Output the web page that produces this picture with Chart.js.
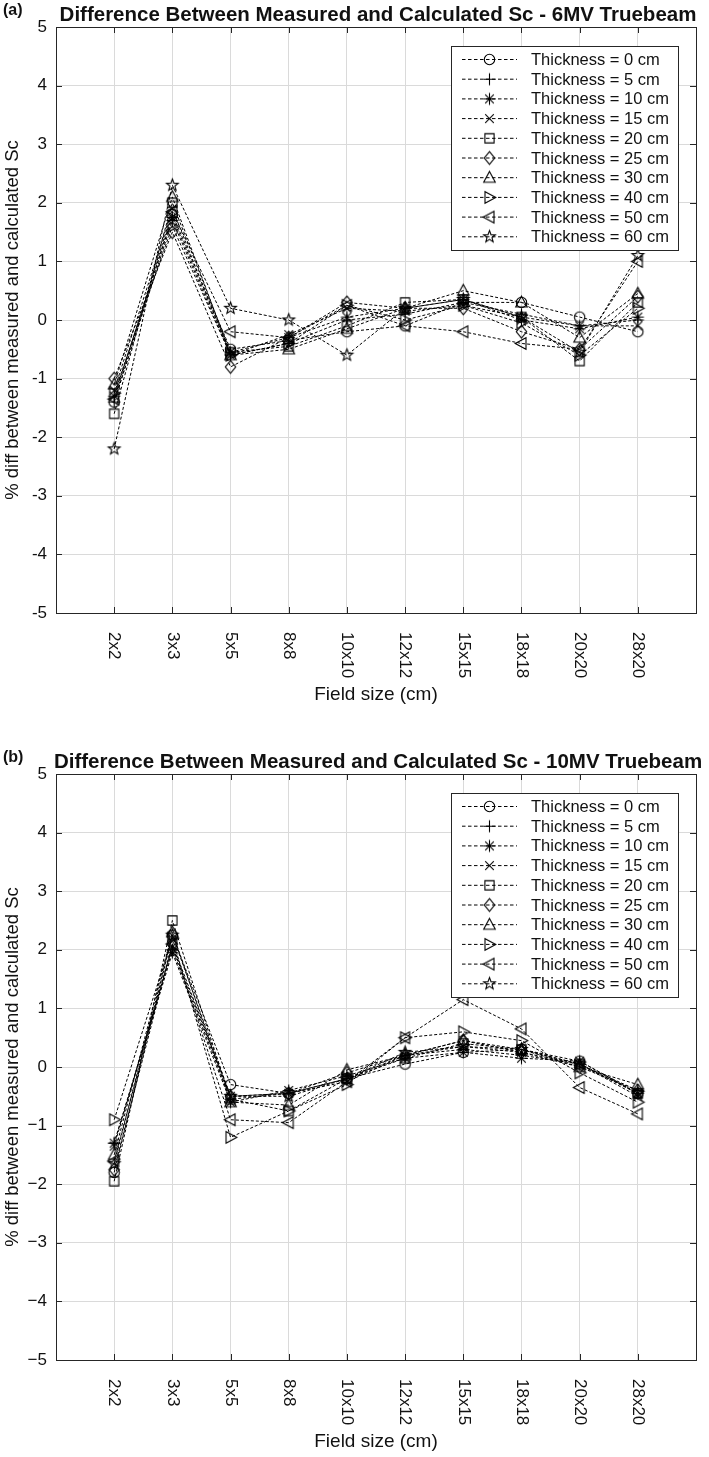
<!DOCTYPE html>
<html>
<head>
<meta charset="utf-8">
<script src="https://cdn.jsdelivr.net/npm/chart.js@4.4.0/dist/chart.umd.min.js"></script>
<style>
  body { margin: 0; background: #fff; }
  canvas { display: block; }
</style>
</head>
<body>
<canvas id="chart-a" width="709" height="747"></canvas>
<canvas id="chart-b" width="709" height="710"></canvas>
<script>
var fieldSizes = ["2x2", "3x3", "5x5", "8x8", "10x10", "12x12", "15x15", "18x18", "20x20", "28x20"];
var thicknesses = [0, 5, 10, 15, 20, 25, 30, 40, 50, 60];
var markerKinds = ["circle", "plus", "asterisk", "cross", "square", "diamond", "triUp", "triRight", "triLeft", "pentagram"];

// (a) 6MV Truebeam, % diff per field size
var sc6_t0  = [-1.4, 1.8, -0.5, -0.35, -0.2, -0.1, 0.3, 0.3, 0.05, -0.2];
var sc6_t5  = [-1.4, 1.7, -0.6, -0.4, 0.0, 0.1, 0.3, 0.1, -0.1, 0.0];
var sc6_t10 = [-1.3, 1.75, -0.55, -0.3, 0.05, 0.2, 0.35, 0.0, -0.15, 0.05];
var sc6_t15 = [-1.2, 1.9, -0.6, -0.25, 0.2, 0.15, 0.25, 0.05, -0.1, -0.1];
var sc6_t20 = [-1.6, 2.0, -0.55, -0.45, -0.1, 0.3, 0.35, 0.05, -0.7, 0.3];
var sc6_t25 = [-1.0, 1.5, -0.8, -0.3, 0.3, 0.2, 0.2, -0.2, -0.5, 0.4];
var sc6_t30 = [-1.1, 2.1, -0.6, -0.5, -0.15, 0.2, 0.5, 0.3, -0.3, 0.45];
var sc6_t40 = [-1.25, 1.6, -0.6, -0.4, 0.25, 0.0, 0.25, -0.05, -0.6, 0.2];
var sc6_t50 = [-1.35, 1.85, -0.2, -0.3, 0.25, -0.1, -0.2, -0.4, -0.5, 1.0];
var sc6_t60 = [-2.2, 2.3, 0.2, 0.0, -0.6, 0.2, 0.35, 0.05, -0.55, 1.1];

// (b) 10MV Truebeam
var sc10_t0  = [-1.8, 2.25, -0.3, -0.45, -0.2, 0.05, 0.25, 0.3, 0.1, -0.45];
var sc10_t5  = [-1.3, 2.0, -0.55, -0.45, -0.2, 0.2, 0.3, 0.2, 0.05, -0.4];
var sc10_t10 = [-1.3, 1.95, -0.6, -0.4, -0.15, 0.15, 0.25, 0.15, 0.1, -0.45];
var sc10_t15 = [-1.35, 2.05, -0.5, -0.45, -0.25, 0.2, 0.35, 0.25, 0.05, -0.5];
var sc10_t20 = [-1.95, 2.5, -0.55, -0.75, -0.2, 0.15, 0.4, 0.3, 0.05, -0.45];
var sc10_t25 = [-1.75, 2.1, -0.5, -0.45, -0.1, 0.2, 0.45, 0.25, 0.0, -0.4];
var sc10_t30 = [-1.5, 2.3, -0.6, -0.65, -0.05, 0.2, 0.45, 0.3, 0.0, -0.3];
var sc10_t40 = [-0.9, 2.2, -1.2, -0.75, -0.3, 0.5, 0.6, 0.45, -0.1, -0.6];
var sc10_t50 = [-1.6, 2.1, -0.9, -0.95, -0.25, 0.5, 1.15, 0.65, -0.35, -0.8];
var sc10_t60 = [-1.65, 2.25, -0.5, -0.5, -0.2, 0.25, 0.35, 0.3, 0.05, -0.45];

var INK = "#111";
var FONT = "'Liberation Sans', Arial, Helvetica, sans-serif";

// hollow marker glyphs, matlab style
function makeMarker(kind) {
  var c = document.createElement("canvas");
  c.width = 17; c.height = 17;
  var g = c.getContext("2d");
  g.translate(8.5, 8.5);
  g.strokeStyle = "#000";
  g.lineWidth = 1.1;
  g.beginPath();
  if (kind == "circle") {
    g.arc(0, 0, 5.2, 0, Math.PI * 2);
  } else if (kind == "plus") {
    g.moveTo(-6, 0); g.lineTo(6, 0); g.moveTo(0, -6); g.lineTo(0, 6);
  } else if (kind == "asterisk") {
    g.moveTo(-6, 0); g.lineTo(6, 0); g.moveTo(0, -6); g.lineTo(0, 6);
    g.moveTo(-4.3, -4.3); g.lineTo(4.3, 4.3); g.moveTo(-4.3, 4.3); g.lineTo(4.3, -4.3);
  } else if (kind == "cross") {
    g.moveTo(-4.3, -4.3); g.lineTo(4.3, 4.3); g.moveTo(-4.3, 4.3); g.lineTo(4.3, -4.3);
  } else if (kind == "square") {
    g.rect(-4.6, -4.6, 9.2, 9.2);
  } else if (kind == "diamond") {
    g.moveTo(0, -6.3); g.lineTo(5.2, 0); g.lineTo(0, 6.3); g.lineTo(-5.2, 0); g.closePath();
  } else if (kind == "triUp") {
    g.moveTo(0, -6.3); g.lineTo(5.8, 4.5); g.lineTo(-5.8, 4.5); g.closePath();
  } else if (kind == "triRight") {
    g.moveTo(6.3, 0); g.lineTo(-4.5, -5.8); g.lineTo(-4.5, 5.8); g.closePath();
  } else if (kind == "triLeft") {
    g.moveTo(-6.3, 0); g.lineTo(4.5, -5.8); g.lineTo(4.5, 5.8); g.closePath();
  } else if (kind == "pentagram") {
    for (var k = 0; k < 10; k++) {
      var r = k % 2 == 0 ? 6.2 : 2.6;
      var a = -Math.PI / 2 + k * Math.PI / 5;
      if (k == 0) g.moveTo(r * Math.cos(a), r * Math.sin(a));
      else g.lineTo(r * Math.cos(a), r * Math.sin(a));
    }
    g.closePath();
  }
  g.stroke();
  return c;
}
var markers = markerKinds.map(makeMarker);

var framePlugin = {
  id: "frame",
  afterDraw: function (chart) {
    var ctx = chart.ctx;
    var ca = chart.chartArea;
    var xs = chart.scales.x, ys = chart.scales.y;
    var o = chart.options.plugins.frame;
    ctx.save();

    // box + inward ticks
    ctx.strokeStyle = "#262626";
    ctx.lineWidth = 1;
    ctx.strokeRect(Math.round(ca.left) + 0.5, Math.round(ca.top) + 0.5,
      Math.round(ca.right - ca.left), Math.round(ca.bottom - ca.top));
    ctx.beginPath();
    for (var i = 1; i <= fieldSizes.length; i++) {
      var px = Math.round(xs.getPixelForValue(i)) + 0.5;
      ctx.moveTo(px, ca.top); ctx.lineTo(px, ca.top + 6);
      ctx.moveTo(px, ca.bottom); ctx.lineTo(px, ca.bottom - 6);
    }
    for (var v = -4; v <= 4; v++) {
      var py = Math.round(ys.getPixelForValue(v)) + 0.5;
      ctx.moveTo(ca.left, py); ctx.lineTo(ca.left + 6, py);
      ctx.moveTo(ca.right, py); ctx.lineTo(ca.right - 6, py);
    }
    ctx.stroke();

    // x tick labels, rotated clockwise
    ctx.fillStyle = INK;
    ctx.font = "17px " + FONT;
    ctx.textAlign = "left";
    ctx.textBaseline = "middle";
    fieldSizes.forEach(function (lab, i) {
      ctx.save();
      ctx.translate(xs.getPixelForValue(i + 1), ca.bottom + 19);
      ctx.rotate(Math.PI / 2);
      ctx.fillText(lab, 0, 0);
      ctx.restore();
    });

    // axis titles
    ctx.textAlign = "center";
    ctx.textBaseline = "alphabetic";
    ctx.font = "19px " + FONT;
    ctx.fillText("Field size (cm)", (ca.left + ca.right) / 2, ca.bottom + 87);
    ctx.save();
    ctx.translate(18, (ca.top + ca.bottom) / 2);
    ctx.rotate(-Math.PI / 2);
    ctx.font = "18.5px " + FONT;
    ctx.fillText("% diff between measured and calculated Sc", 0, 0);
    ctx.restore();

    // panel title
    ctx.font = "bold 20.5px " + FONT;
    ctx.fillText(o.title, (ca.left + ca.right) / 2 + 2, 20.5);
    ctx.textAlign = "left";
    ctx.font = "bold 16px " + FONT;
    ctx.fillText(o.panel, 3, 15);

    // legend
    var lx = 451, ly = 46, lw = 227, lh = 204;
    ctx.fillStyle = "#fff";
    ctx.fillRect(lx, ly, lw, lh);
    ctx.strokeStyle = "#262626";
    ctx.strokeRect(lx + 0.5, ly + 0.5, lw, lh);
    ctx.font = "16.5px " + FONT;
    ctx.textBaseline = "middle";
    chart.data.datasets.forEach(function (ds, i) {
      var ry = ly + 13.5 + i * 19.7;
      ctx.strokeStyle = "#000";
      ctx.lineWidth = 1;
      ctx.setLineDash([3.5, 2.5]);
      ctx.beginPath();
      ctx.moveTo(lx + 11, ry); ctx.lineTo(lx + 66, ry);
      ctx.stroke();
      ctx.setLineDash([]);
      ctx.drawImage(ds.pointStyle, lx + 38.5 - 8.5, ry - 8.5);
      ctx.fillStyle = INK;
      ctx.fillText(ds.label, lx + 80, ry + 1);
    });
    ctx.restore();
  }
};

function makeChart(id, series, title, panel, bottomSpace, minusSign) {
  var datasets = series.map(function (vals, i) {
    return {
      label: "Thickness = " + thicknesses[i] + " cm",
      data: vals.map(function (v, j) { return { x: j + 1, y: v }; }),
      borderColor: "#000",
      borderWidth: 1,
      borderDash: [3, 2],
      pointStyle: markers[i],
      pointRadius: 6,
      tension: 0
    };
  });
  return new Chart(document.getElementById(id), {
    type: "line",
    data: { datasets: datasets },
    plugins: [framePlugin],
    options: {
      responsive: false,
      animation: false,
      devicePixelRatio: 1,
      layout: { padding: { top: 27, right: 13, left: 0, bottom: 0 } },
      plugins: {
        legend: { display: false },
        tooltip: { enabled: false },
        frame: { title: title, panel: panel }
      },
      scales: {
        x: {
          type: "linear",
          min: 0,
          max: 11,
          ticks: { display: false, stepSize: 1 },
          grid: { color: "#dadada", lineWidth: 1, drawTicks: false },
          border: { display: false },
          afterFit: function (s) { s.height = bottomSpace; }
        },
        y: {
          min: -5,
          max: 5,
          ticks: {
            stepSize: 1,
            padding: 9,
            color: INK,
            font: { family: FONT, size: 17 },
            callback: function (v) { return v < 0 ? minusSign + Math.abs(v) : String(v); }
          },
          grid: { color: "#dadada", lineWidth: 1, drawTicks: false },
          border: { display: false },
          afterFit: function (s) { s.width = 56; }
        }
      }
    }
  });
}

makeChart("chart-a",
  [sc6_t0, sc6_t5, sc6_t10, sc6_t15, sc6_t20, sc6_t25, sc6_t30, sc6_t40, sc6_t50, sc6_t60],
  "Difference Between Measured and Calculated Sc - 6MV Truebeam", "(a)", 134, "-");
makeChart("chart-b",
  [sc10_t0, sc10_t5, sc10_t10, sc10_t15, sc10_t20, sc10_t25, sc10_t30, sc10_t40, sc10_t50, sc10_t60],
  "Difference Between Measured and Calculated Sc - 10MV Truebeam", "(b)", 97, "\u2212");
</script>
</body>
</html>
